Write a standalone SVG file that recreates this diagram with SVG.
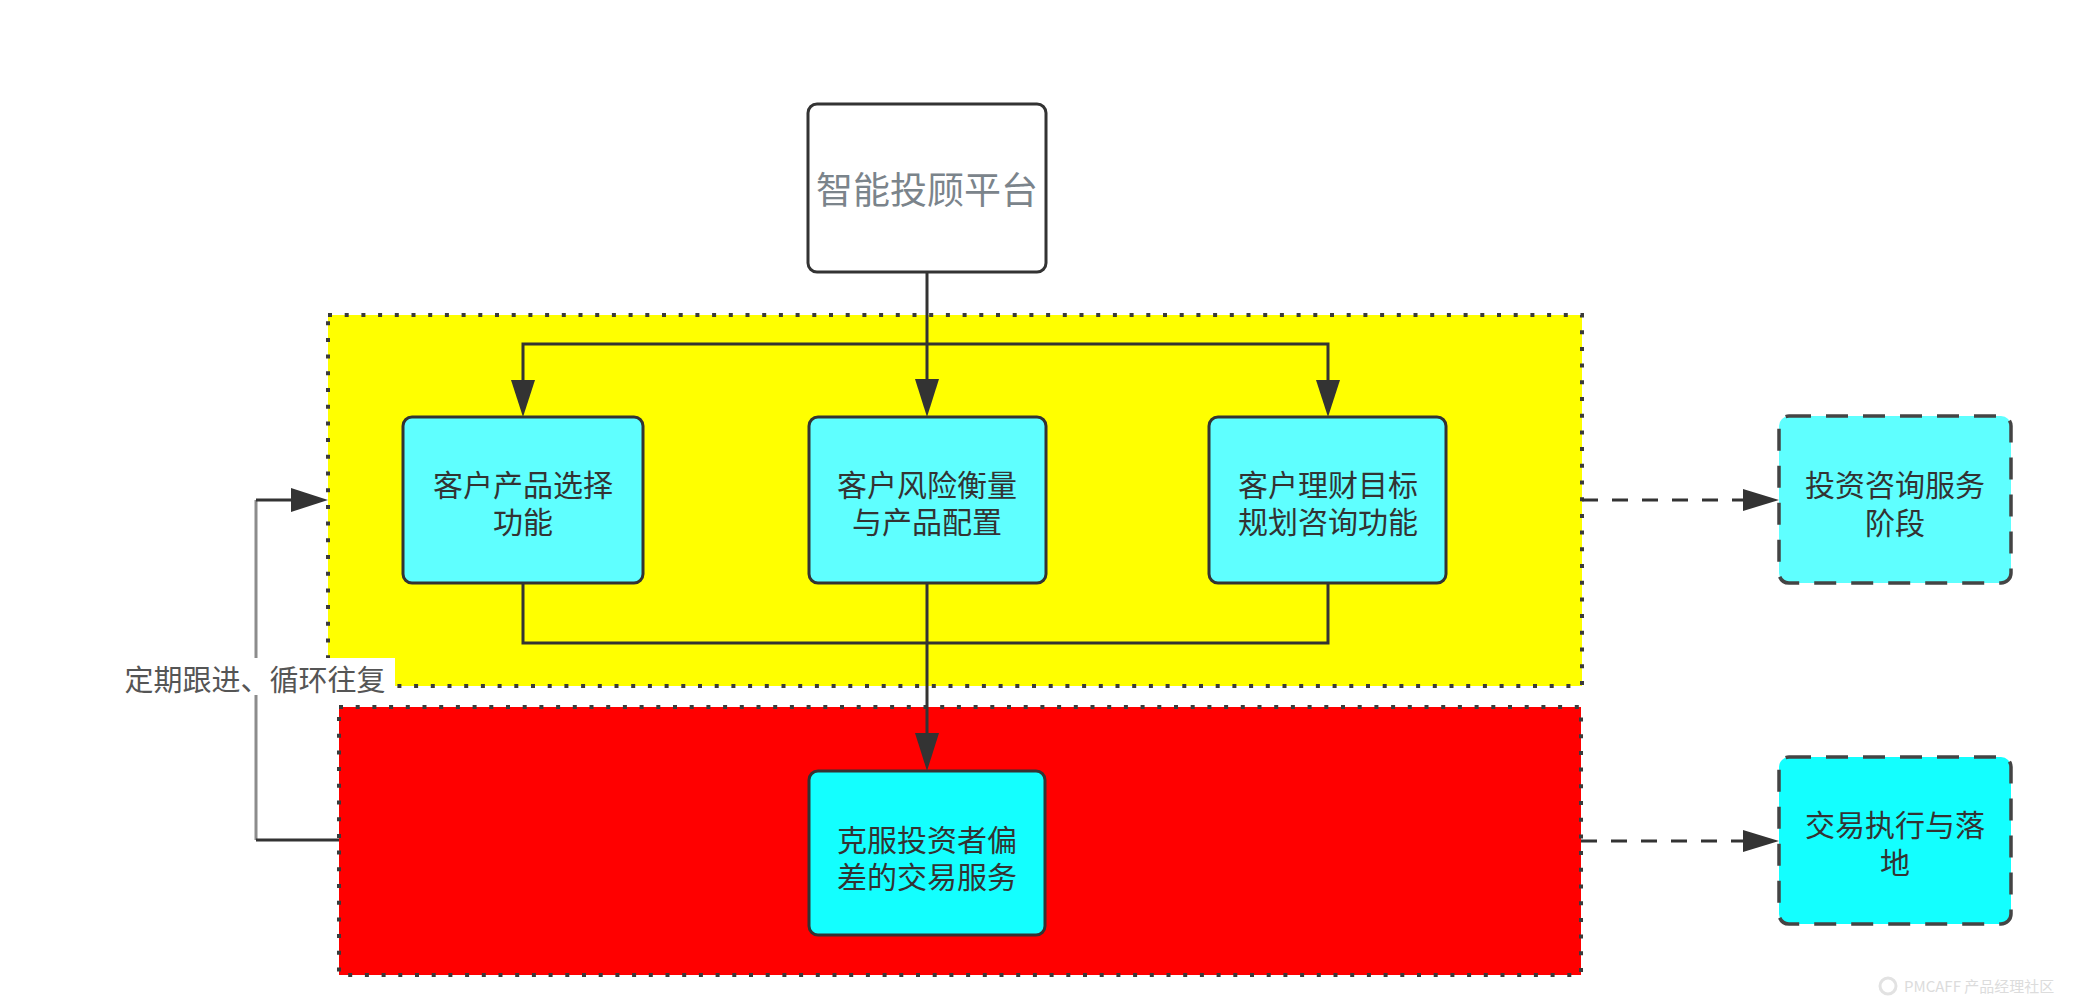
<svg xmlns="http://www.w3.org/2000/svg" width="2086" height="1008" viewBox="0 0 2086 1008">
<style>
text{font-family:"Noto Sans CJK SC","Noto Sans",sans-serif;text-anchor:middle}
.t{font-size:30px;fill:#333}
.box{stroke:#333;stroke-width:3}
.ln{fill:none;stroke:#333;stroke-width:3}
.dash{fill:none;stroke:#333;stroke-width:3;stroke-dasharray:16 14}
.zone{stroke:#3a3a3a;stroke-width:4;stroke-dasharray:4 12.7}
.dnode{stroke:#444;stroke-width:3.5;stroke-dasharray:22 15}
</style>
<rect width="2086" height="1008" fill="#fff"/>
<g id="zone-yellow"><rect class="zone" x="328" y="315" width="1254" height="371" fill="#ffff00"/></g>
<g id="zone-red"><rect class="zone" x="339" y="707" width="1242" height="268" fill="#ff0000"/></g>
<g id="connectors">
<path class="ln" d="M927,272 V379"/>
<path d="M915,379 L939,379 L927,417 Z" fill="#333"/>
<path class="ln" d="M523,380 V344 H1328 V380"/>
<path d="M511,380 L535,380 L523,417 Z" fill="#333"/>
<path d="M1316,380 L1340,380 L1328,417 Z" fill="#333"/>
<path class="ln" d="M523,583 V643 H1328 V583"/>
<path class="ln" d="M927,583 V734"/>
<path d="M915,733 L939,733 L927,771 Z" fill="#333"/>
<path fill="none" stroke="#8c8c8c" stroke-width="3" d="M256,840 V500"/>
<path class="ln" d="M339,840 H256 M256,500 H292"/>
<path d="M291,488 L328,500 L291,512 Z" fill="#333"/>
<path class="dash" d="M1582,500 H1745"/>
<path d="M1743,489 L1779,500 L1743,511 Z" fill="#333"/>
<path class="dash" d="M1581,841 H1745"/>
<path d="M1743,830 L1779,841 L1743,852 Z" fill="#333"/>
<rect x="115" y="658" width="280" height="37" fill="#fff"/>
<text x="255" y="691" style="font-size:29px;fill:#555">定期跟进、循环往复</text>
</g>
<g id="n-platform">
<rect class="box" x="808" y="104" width="238" height="168" rx="9" fill="#fff"/>
<text x="927" y="204" style="font-size:37px;fill:#7b848b">智能投顾平台</text>
</g>
<g id="n-product">
<rect class="box" x="403" y="417" width="240" height="166" rx="9" fill="#5fffff"/>
<text class="t" x="523" y="496">客户产品选择<tspan x="523" dy="37">功能</tspan></text>
</g>
<g id="n-risk">
<rect class="box" x="809" y="417" width="237" height="166" rx="9" fill="#5fffff"/>
<text class="t" x="927" y="496">客户风险衡量<tspan x="927" dy="37">与产品配置</tspan></text>
</g>
<g id="n-goal">
<rect class="box" x="1209" y="417" width="237" height="166" rx="9" fill="#5fffff"/>
<text class="t" x="1328" y="496">客户理财目标<tspan x="1328" dy="37">规划咨询功能</tspan></text>
</g>
<g id="n-trade">
<rect class="box" x="809" y="771" width="236" height="164" rx="9" fill="#13ffff"/>
<text class="t" x="927" y="851">克服投资者偏<tspan x="927" dy="37">差的交易服务</tspan></text>
</g>
<g id="n-stage1">
<rect class="dnode" x="1779" y="416" width="232" height="167" rx="10" fill="#5fffff"/>
<text class="t" x="1895" y="496">投资咨询服务<tspan x="1895" dy="38">阶段</tspan></text>
</g>
<g id="n-stage2">
<rect class="dnode" x="1779" y="757" width="232" height="167" rx="10" fill="#13ffff"/>
<text class="t" x="1895" y="836">交易执行与落<tspan x="1895" dy="38">地</tspan></text>
</g>
<g id="watermark">
<circle cx="1888" cy="986" r="8" fill="none" stroke="#e2e2e2" stroke-width="3"/>
<text x="1904" y="992" style="font-size:15px;fill:#dcdcdc;text-anchor:start">PMCAFF 产品经理社区</text>
</g>
</svg>
